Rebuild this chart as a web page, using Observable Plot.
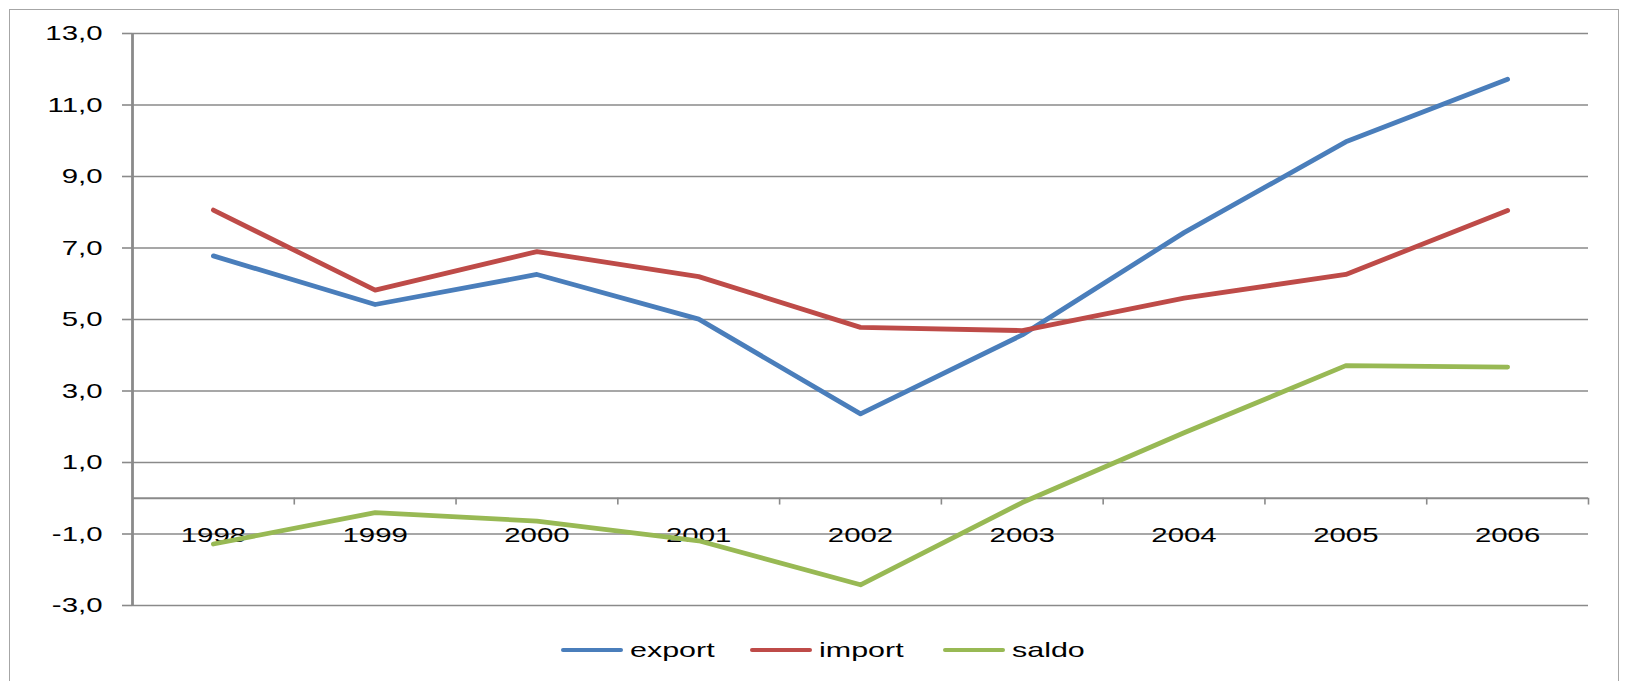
<!DOCTYPE html>
<html>
<head>
<meta charset="utf-8">
<script src="https://cdn.jsdelivr.net/npm/d3@7"></script>
<script src="https://cdn.jsdelivr.net/npm/@observablehq/plot@0.6"></script>
<style>
  html, body { margin: 0; padding: 0; background: #fff; }
  body { width: 1628px; height: 681px; position: relative; overflow: hidden; font-family: "Liberation Sans", Arial, sans-serif; }
  #frame { position: absolute; left: 9px; top: 9px; width: 1610px; height: 700px; border: 1.5px solid #a6a6a6; box-sizing: border-box; }
  #chart { position: absolute; left: 0; top: 0; }
  #legend { position: absolute; left: 561px; top: 637px; height: 26px; display: flex; align-items: center; }
  .item { display: flex; align-items: center; }
  .sw { display: inline-block; width: 62px; height: 4px; border-radius: 2px; margin-right: 7px; }
  .lt { display: inline-block; font-size: 21px; color: #000; transform: scaleX(1.45); transform-origin: left center; }
</style>
</head>
<body>
<div id="frame"></div>
<div id="chart"></div>
<div id="legend"></div>
<script>
const years = [1998, 1999, 2000, 2001, 2002, 2003, 2004, 2005, 2006];
const exportVals = [6.78, 5.42, 6.26, 5.01, 2.36, 4.57, 7.43, 9.97, 11.72];
const importVals = [8.06, 5.82, 6.90, 6.20, 4.78, 4.69, 5.60, 6.26, 8.05];
const saldoVals = [-1.28, -0.40, -0.64, -1.19, -2.42, -0.12, 1.83, 3.71, 3.67];
const seriesNames = ["export", "import", "saldo"];
const seriesColors = ["#4a7ebb", "#be4b48", "#98b954"];
const yTicks = [-3, -1, 1, 3, 5, 7, 9, 11, 13];
const yTickLabels = ["-3,0", "-1,0", "1,0", "3,0", "5,0", "7,0", "9,0", "11,0", "13,0"];

const seriesVals = [exportVals, importVals, saldoVals];
const rows = [];
seriesNames.forEach((s, k) => years.forEach((yr, i) => rows.push({series: s, year: yr, value: seriesVals[k][i]})));
const bounds = d3.range(years.length + 1).map(i => years[0] - 0.5 + i);

const grid = "#8a8a8a";
const chart = Plot.plot({
  width: 1628,
  height: 640,
  marginLeft: 132,
  marginRight: 40,
  marginTop: 33,
  marginBottom: 35,
  style: {fontFamily: "Liberation Sans, Arial, sans-serif", fontSize: "21px", color: "#000", background: "transparent"},
  x: {type: "linear", domain: [bounds[0], bounds[bounds.length - 1]], axis: null},
  y: {domain: [yTicks[0], yTicks[yTicks.length - 1]], axis: null},
  color: {domain: seriesNames, range: seriesColors},
  marks: [
    Plot.ruleY(yTicks, {stroke: grid, strokeWidth: 1.6}),
    Plot.axisY({ticks: yTicks, tickFormat: d => yTickLabels[yTicks.indexOf(d)], tickSize: 10, tickPadding: 20, stroke: grid, strokeWidth: 1.6, strokeOpacity: 1, fill: "#000", fontSize: 21, label: null}),
    Plot.ruleY([0], {stroke: grid, strokeWidth: 2}),
    Plot.ruleX(bounds.slice(1), {x: d => d, y1: 0, y2: -0.19, stroke: grid, strokeWidth: 1.6}),
    Plot.ruleX([bounds[0]], {stroke: grid, strokeWidth: 2.8}),
    Plot.text(years, {x: d => d, y: 0, dy: 37, text: d => String(d), fill: "#000", fontSize: 21}),
    Plot.line(rows, {x: "year", y: "value", stroke: "series", strokeWidth: 4.8, strokeLinecap: "round", strokeLinejoin: "round"})
  ]
});
document.getElementById("chart").appendChild(chart);

// emulate the horizontally stretched text of the original
const SX = 1.4;
d3.select(chart).selectAll("text").each(function() {
  const anchor = getComputedStyle(this).textAnchor;
  const b = this.getBBox();
  const ax = anchor === "end" ? b.x + b.width : anchor === "middle" ? b.x + b.width / 2 : b.x;
  const orig = this.getAttribute("transform") || "";
  this.setAttribute("transform", `${orig} translate(${ax},0) scale(${SX},1) translate(${-ax},0)`.trim());
});

const legendWidths = [189, 193, 140];
const legend = d3.select("#legend");
seriesNames.forEach((s, i) => {
  const it = legend.append("div").attr("class", "item").style("width", legendWidths[i] + "px");
  it.append("span").attr("class", "sw").style("background", seriesColors[i]);
  it.append("span").attr("class", "lt").text(s);
});
</script>
</body>
</html>
